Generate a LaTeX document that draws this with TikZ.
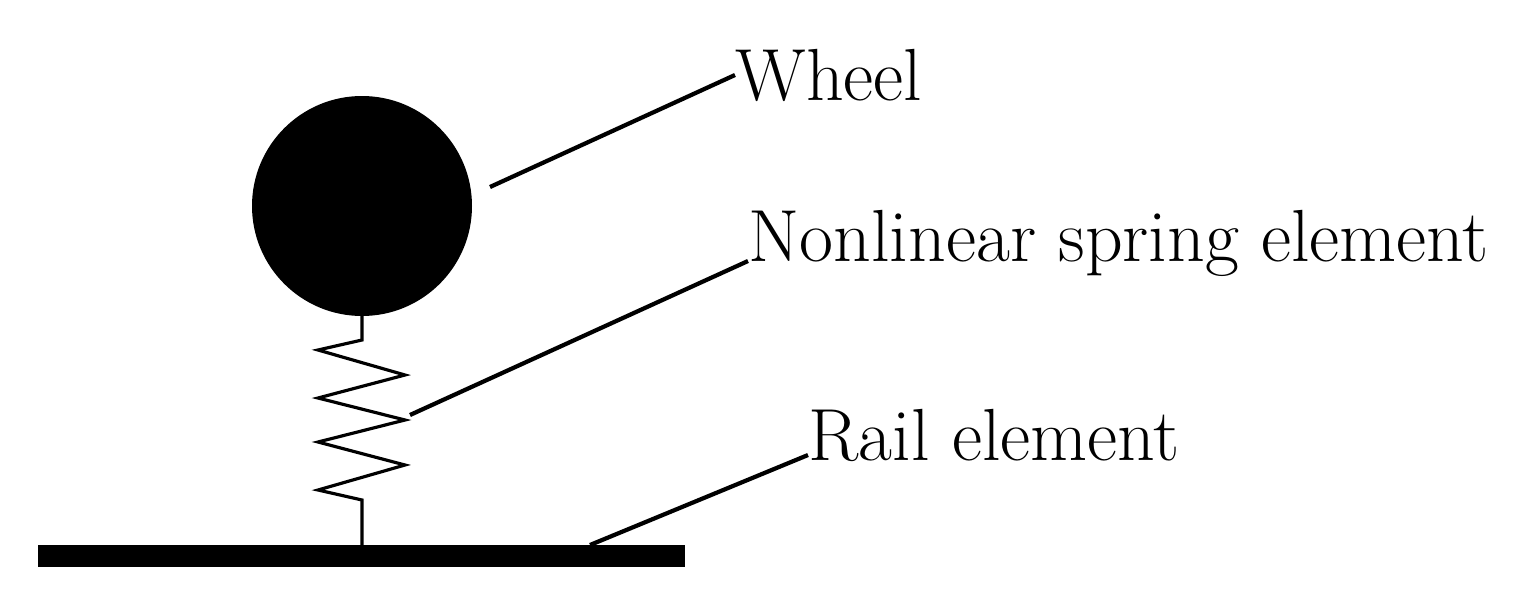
\documentclass[tikz,border=0pt]{standalone}
\begin{document}
\begin{tikzpicture}[x=0.01cm,y=-0.01cm,
  lbl/.style={anchor=west,inner sep=0pt,font=\fontsize{21}{24}\selectfont},
  lead/.style={line width=1.2pt}]
\useasboundingbox (0,0) rectangle (1536,612);
\fill (362,206) circle [radius=110];
\coordinate (wtop) at (362,316);
\fill (38,545) rectangle (685,567);
\coordinate (rtop) at (362,545);
\draw[line width=0.9pt,line join=miter] (wtop) -- (362,340) -- (318,350) -- (405,375) -- (318,398) -- (405,420) -- (318,442) -- (405,465) -- (318,490) -- (362,500) -- (rtop);
\node[lbl] (w) at (735,75) {Wheel};
\node[lbl] (s) at (748,243) {Nonlinear spring element};
\node[lbl] (r) at (808,435) {Rail element};
\draw[lead] (490,187) -- (w.west);
\draw[lead] (410,415) -- ([yshift=-0.18cm]s.west);
\draw[lead] (590,545) -- ([yshift=-0.2cm]r.west);
\end{tikzpicture}
\end{document}
